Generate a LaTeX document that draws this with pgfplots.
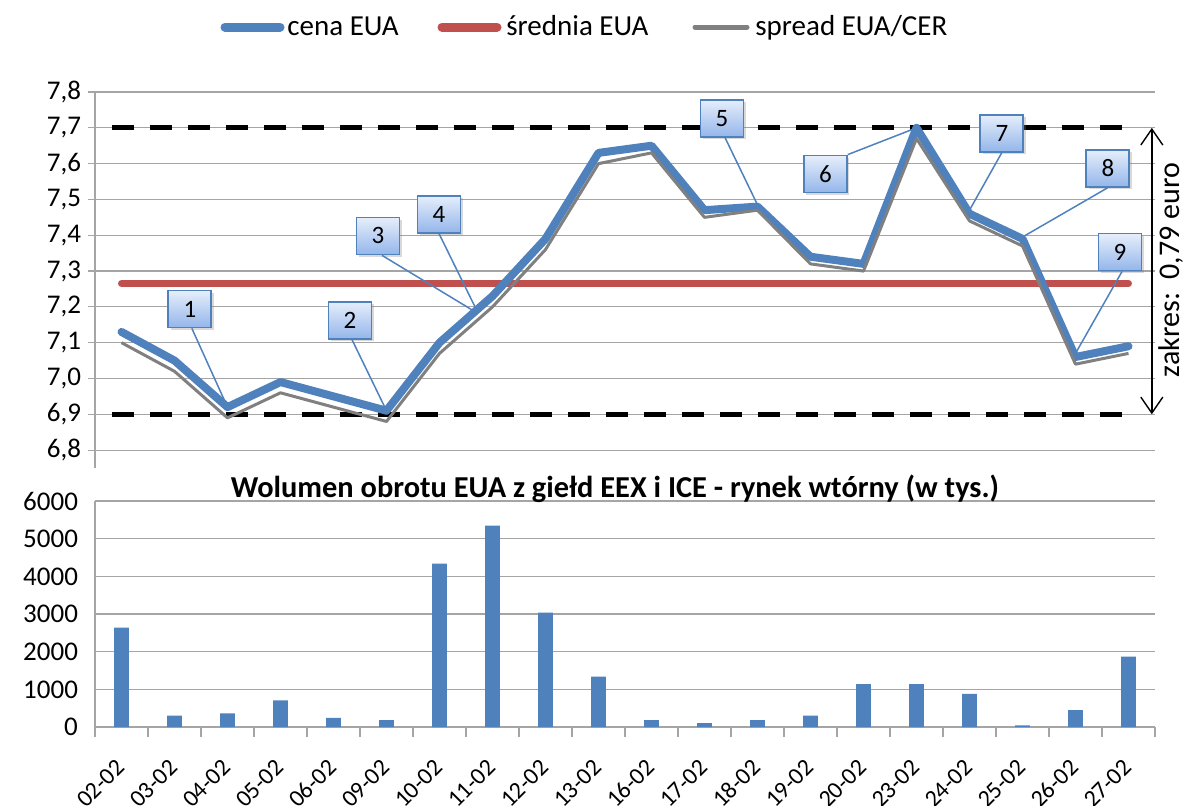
\documentclass[border=0pt]{standalone}
\usepackage{fontspec}
\setmainfont{Carlito}
\usepackage{pgfplots}
\pgfplotsset{compat=1.18}
\usetikzlibrary{shadows,arrows.meta}
\definecolor{eblue}{RGB}{79,129,189}
\definecolor{ered}{RGB}{192,80,77}
\definecolor{egray}{RGB}{128,128,128}
\definecolor{gridc}{RGB}{165,165,165}
\definecolor{boxtop}{RGB}{230,238,251}
\definecolor{boxbot}{RGB}{148,182,234}
\tikzset{callout/.style={draw=eblue, line width=0.9pt, top color=boxtop, bottom color=boxbot,
  minimum width=21.5pt, minimum height=18.5pt, inner sep=0pt, font=\fontsize{12.5}{14}\selectfont,
  drop shadow={opacity=0.3, shadow xshift=1.2pt, shadow yshift=-1.2pt}}}
\begin{document}
\begin{tikzpicture}
\path[use as bounding box] (0,0) rectangle (592pt,-402.5pt);
% ---------- top chart ----------
\begin{axis}[
  at={(47.5pt,-234pt)}, anchor=south west,
  width=530pt, height=188pt, scale only axis,
  xmin=-0.5, xmax=19.5, ymin=6.75, ymax=7.8,
  axis x line=none, axis y line*=left,
  y axis line style={gridc, line width=0.8pt},
  xtick=\empty,
  ytick={6.8,6.9,7.0,7.1,7.2,7.3,7.4,7.5,7.6,7.7,7.8},
  ymajorgrids, grid style={gridc, line width=0.6pt},
  tick align=outside, major tick length=3.5pt,
  ytick style={gridc, line width=0.6pt},
  yticklabel style={font=\fontsize{13.5}{16}\selectfont, /pgf/number format/.cd, fixed, fixed zerofill, precision=1, use comma, assume math mode=true},
  clip=false,
]
\addplot[black, line width=2.5pt, dash pattern=on 11pt off 8pt] coordinates {(-0.18,7.7) (19.08,7.7)};
\addplot[black, line width=2.5pt, dash pattern=on 11pt off 8pt] coordinates {(-0.18,6.9) (19.08,6.9)};
\addplot[ered, line width=3.5pt, line cap=round] coordinates {(0,7.265) (19,7.265)};
\addplot[eblue, line width=4pt, line join=round, line cap=round] coordinates {
(0,7.13) (1,7.05) (2,6.92) (3,6.99) (4,6.95) (5,6.91) (6,7.10) (7,7.23) (8,7.39) (9,7.63)
(10,7.65) (11,7.47) (12,7.48) (13,7.34) (14,7.32) (15,7.70) (16,7.46) (17,7.39) (18,7.06) (19,7.09)};
\addplot[egray, line width=1.5pt, line join=round] coordinates {
(0,7.10) (1,7.02) (2,6.89) (3,6.96) (4,6.92) (5,6.88) (6,7.07) (7,7.20) (8,7.36) (9,7.60)
(10,7.63) (11,7.45) (12,7.47) (13,7.32) (14,7.30) (15,7.67) (16,7.44) (17,7.37) (18,7.04) (19,7.07)};
% callouts
\node[callout] (b1) at (axis cs:1.29,7.194) {1};
\node[callout] (b2) at (axis cs:4.31,7.163) {2};
\node[callout] (b3) at (axis cs:4.84,7.398) {3};
\node[callout] (b4) at (axis cs:5.99,7.459) {4};
\node[callout] (b5) at (axis cs:11.33,7.727) {5};
\node[callout] (b6) at (axis cs:13.28,7.571) {6};
\node[callout] (b7) at (axis cs:16.61,7.685) {7};
\node[callout] (b8) at (axis cs:18.61,7.587) {8};
\node[callout] (b9) at (axis cs:18.84,7.353) {9};
\begin{scope}[eblue, line width=0.75pt]
\draw ([xshift=1pt]b1.south) -- (axis cs:2,6.92);
\draw ([xshift=1pt]b2.south) -- (axis cs:5,6.91);
\draw ([xshift=2pt]b3.south) -- (axis cs:6.63,7.19);
\draw (b4.south) -- (axis cs:6.67,7.20);
\draw ([xshift=1.5pt]b5.south) -- (axis cs:12,7.485);
\draw (b6.north east) -- (axis cs:15,7.70);
\draw (b7.south) -- (axis cs:16,7.47);
\draw (b8.south) -- (axis cs:17,7.395);
\draw ([xshift=1pt]b9.south) -- (axis cs:18,7.07);
\end{scope}
\draw[{Straight Barb[length=8pt,width=11pt]}-{Straight Barb[length=8pt,width=11pt]}, line width=0.7pt]
  (axis cs:19.44,7.7) -- (axis cs:19.44,6.9);
\node[rotate=90, font=\fontsize{15}{18}\selectfont] at (axis cs:19.8,7.303) {zakres:\ \ 0,79 euro};
\end{axis}
% ---------- bottom chart ----------
\begin{axis}[
  at={(47.5pt,-363.5pt)}, anchor=south west,
  width=530pt, height=113pt, scale only axis,
  xmin=-0.5, xmax=19.5, ymin=0, ymax=6000,
  axis x line*=bottom, axis y line*=left,
  axis line style={gridc, line width=0.8pt},
  ytick={0,1000,2000,3000,4000,5000,6000},
  ymajorgrids, grid style={gridc, line width=0.6pt},
  tick align=outside, major tick length=5pt,
  ytick style={draw=none},
  xtick={0,...,19},
  xticklabels={02-02,03-02,04-02,05-02,06-02,09-02,10-02,11-02,12-02,13-02,16-02,17-02,18-02,19-02,20-02,23-02,24-02,25-02,26-02,27-02},
  xtick style={draw=none},
  extra x ticks={-0.5,0.5,...,19.5},
  extra x tick labels={},
  extra x tick style={grid=none, xtick style={draw=gridc, line width=0.6pt}},
  yticklabel style={font=\fontsize{13.5}{16}\selectfont, /pgf/number format/.cd, 1000 sep={}, assume math mode=true},
  xticklabel style={font=\fontsize{12}{14}\selectfont, xshift=2.25pt, yshift=-16pt, rotate=45, anchor=base east, inner sep=0pt},
  ybar, bar width=0.28,
  clip=false,
]
\addplot[fill=eblue, draw=none] coordinates {
(0,2640) (1,300) (2,360) (3,710) (4,240) (5,180) (6,4340) (7,5350) (8,3040) (9,1340)
(10,180) (11,100) (12,180) (13,300) (14,1140) (15,1140) (16,880) (17,45) (18,450) (19,1870)};
\end{axis}
\node[font=\bfseries\fontsize{15.2}{18}\selectfont] at (307.5pt,-244.5pt) {Wolumen obrotu EUA z giełd EEX i ICE - rynek wtórny (w tys.)};
% ---------- legend ----------
\begin{scope}[x=0.5pt,y=-0.5pt]
\draw[eblue, line width=4.5pt, line cap=round] (225,27) -- (280,27);
\node[anchor=base west, inner sep=0pt, font=\fontsize{14.5}{17}\selectfont] at (287,35) {cena EUA};
\draw[ered, line width=4.5pt, line cap=round] (442,27) -- (497,27);
\node[anchor=base west, inner sep=0pt, font=\fontsize{14.5}{17}\selectfont] at (506,35) {średnia EUA};
\draw[egray, line width=2.5pt, line cap=round] (695,27) -- (747,27);
\node[anchor=base west, inner sep=0pt, font=\fontsize{14.5}{17}\selectfont] at (755,35) {spread EUA/CER};
\end{scope}
\end{tikzpicture}
\end{document}
